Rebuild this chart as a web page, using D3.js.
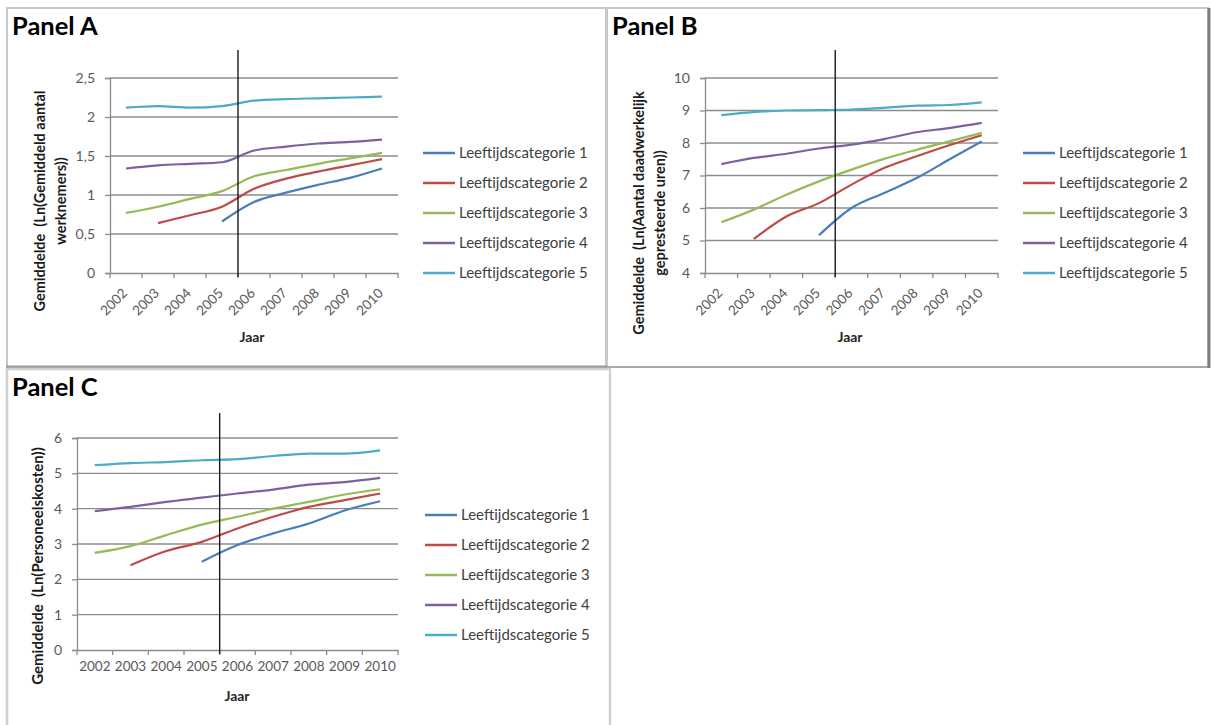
<!DOCTYPE html>
<html>
<head>
<meta charset="utf-8">
<script src="https://cdn.jsdelivr.net/npm/d3@7"></script>
<style>
  body { margin: 0; background: #fff; }
  svg { display: block; font-family: Lato, "Open Sans", sans-serif; }
</style>
</head>
<body>
<svg class="chart"></svg>
<script>
// data
var years = ["2002", "2003", "2004", "2005", "2006", "2007", "2008", "2009", "2010"];
var seriesNames = ["Leeftijdscategorie 1", "Leeftijdscategorie 2", "Leeftijdscategorie 3",
                   "Leeftijdscategorie 4", "Leeftijdscategorie 5"];
var seriesColors = ["#4a7ebb", "#be4b48", "#98b954", "#7d60a0", "#4bacc6"];

var panelAValues = [
    [null, null, null, 0.66, 0.91, 1.03, 1.13, 1.22, 1.34],
    [null, 0.64, 0.74, 0.85, 1.08, 1.21, 1.30, 1.38, 1.46],
    [0.77, 0.85, 0.95, 1.05, 1.24, 1.32, 1.40, 1.47, 1.54],
    [1.34, 1.38, 1.40, 1.42, 1.57, 1.62, 1.66, 1.68, 1.71],
    [2.12, 2.14, 2.12, 2.14, 2.21, 2.23, 2.24, 2.25, 2.26]
];
var panelBValues = [
    [null, null, null, 5.16, 6.00, 6.46, 6.92, 7.49, 8.05],
    [null, 5.05, 5.74, 6.15, 6.72, 7.23, 7.59, 7.93, 8.24],
    [5.56, 5.95, 6.41, 6.82, 7.18, 7.51, 7.79, 8.05, 8.31],
    [7.35, 7.54, 7.67, 7.83, 7.95, 8.12, 8.33, 8.46, 8.62],
    [8.86, 8.95, 9.00, 9.01, 9.03, 9.08, 9.15, 9.17, 9.25]
];
var panelCValues = [
    [null, null, null, 2.50, 2.97, 3.30, 3.58, 3.95, 4.21],
    [null, 2.40, 2.80, 3.06, 3.44, 3.77, 4.05, 4.24, 4.43],
    [2.75, 2.94, 3.25, 3.55, 3.77, 4.00, 4.19, 4.40, 4.55],
    [3.93, 4.05, 4.19, 4.31, 4.43, 4.54, 4.68, 4.75, 4.87],
    [5.23, 5.29, 5.32, 5.37, 5.40, 5.49, 5.56, 5.56, 5.65]
];

var panelATicks = [0, 0.5, 1, 1.5, 2, 2.5];
var panelBTicks = [4, 5, 6, 7, 8, 9, 10];
var panelCTicks = [0, 1, 2, 3, 4, 5, 6];

var panelTitles = ["Panel A", "Panel B", "Panel C"];
var yTitles = [
    ["Gemiddelde  (Ln(Gemiddeld aantal", "werknemers))"],
    ["Gemiddelde  (Ln(Aantal daadwerkelijk", "gepresteerde uren))"],
    ["Gemiddelde  (Ln(Personeelskosten))"]
];
var xTitle = "Jaar";
var breakYear = "2006";   // vertical line sits in front of this year

var width = 1211, height = 725;

var svg = d3.select(".chart").attr("width", width).attr("height", height);
svg.append("rect").attr("width", width).attr("height", height).attr("fill", "#fff");

// panel frames
svg.append("rect").attr("x", 7).attr("y", 8).attr("width", 599).attr("height", 359)
    .attr("fill", "none").attr("stroke", "#c8c8c8").attr("stroke-width", 2);
svg.append("rect").attr("x", 607).attr("y", 8).attr("width", 601).attr("height", 359)
    .attr("fill", "none").attr("stroke", "#c8c8c8").attr("stroke-width", 2);
svg.append("line").attr("x1", 607).attr("x2", 1209).attr("y1", 367).attr("y2", 367)
    .attr("stroke", "#a8a8a8").attr("stroke-width", 2);
svg.append("line").attr("x1", 1209).attr("x2", 1209).attr("y1", 8).attr("y2", 368)
    .attr("stroke", "#7f7f7f").attr("stroke-width", 3);
svg.append("line").attr("x1", 6).attr("x2", 607).attr("y1", 367).attr("y2", 367)
    .attr("stroke", "#9a9a9a").attr("stroke-width", 3);
svg.append("rect").attr("x", 7).attr("y", 369).attr("width", 603).attr("height", 380)
    .attr("fill", "none").attr("stroke", "#d0d0d0").attr("stroke-width", 2.5);

/**
 * Draws one excel-like line chart panel
 */
function drawPanel(p) {
    var g = svg.append("g");

    var x = d3.scaleBand().domain(years).range([p.left, p.right]);
    var y = d3.scaleLinear().domain(d3.extent(p.ticks)).range([p.bottom, p.top]);
    var fmt = function(d) { return String(d).replace(".", ","); };

    g.append("text")
        .attr("x", p.titleX).attr("y", p.titleY)
        .attr("font-size", 25.5).attr("font-weight", "bold").attr("fill", "#000")
        .text(p.title);

    // gridlines
    g.selectAll(".grid")
        .data(p.ticks.slice(1))
        .enter().append("line")
        .attr("x1", p.left).attr("x2", p.right)
        .attr("y1", function(d) { return y(d); })
        .attr("y2", function(d) { return y(d); })
        .attr("stroke", "#8c8c8c").attr("stroke-width", 1.3);

    // y axis
    var yAxis = g.append("g")
        .attr("transform", "translate(" + p.left + ",0)")
        .call(d3.axisLeft(y).tickValues(p.ticks).tickFormat(fmt).tickSize(5).tickPadding(10));
    yAxis.selectAll("line, path").attr("stroke", "#8c8c8c").attr("stroke-width", 1.3);
    yAxis.selectAll("text").attr("font-size", 14).attr("fill", "#595959")
        .attr("font-family", "Lato, sans-serif");

    // x axis: labels at band centres, ticks on band edges
    var xAxis = g.append("g")
        .attr("transform", "translate(0," + p.bottom + ")")
        .call(d3.axisBottom(x).tickSize(0).tickPadding(0));
    xAxis.select("path").attr("stroke", "#8c8c8c").attr("stroke-width", 1.3);
    xAxis.selectAll("text").attr("font-size", 13.5).attr("fill", "#595959")
        .attr("font-family", "Lato, sans-serif");
    if (p.rotate) {
        xAxis.selectAll("text")
            .attr("y", 0).attr("dy", "0.32em")
            .attr("text-anchor", "end")
            .attr("transform", "translate(-1,18) rotate(-45)");
    } else {
        xAxis.selectAll("text").attr("y", 11).attr("dy", "0.71em");
    }
    g.selectAll(".xtick")
        .data(years.concat(["end"]))
        .enter().append("line")
        .attr("x1", function(d) { return d === "end" ? p.right : x(d); })
        .attr("x2", function(d) { return d === "end" ? p.right : x(d); })
        .attr("y1", p.bottom).attr("y2", p.bottom + 5)
        .attr("stroke", "#8c8c8c").attr("stroke-width", 1.3);

    // axis titles
    g.append("text")
        .attr("x", p.jaarX).attr("y", p.jaarY)
        .attr("text-anchor", "middle").attr("font-size", 14).attr("font-weight", "bold")
        .attr("fill", "#262626")
        .text(xTitle);

    p.yTitle.forEach(function(line, i) {
        var tx = p.yTitleX + i * 21;
        g.append("text")
            .attr("transform", "translate(" + tx + "," + p.yTitleY + ") rotate(-90)")
            .attr("text-anchor", "middle").attr("dy", "0.35em")
            .attr("font-size", p.yTitleSize).attr("font-weight", "bold").attr("fill", "#1a1a1a")
            .style("white-space", "pre")
            .text(line);
    });

    // series lines
    var line = d3.line()
        .defined(function(d) { return d != null; })
        .x(function(d, i) { return x(years[i]) + x.bandwidth() / 2; })
        .y(function(d) { return y(d); })
        .curve(d3.curveMonotoneX);

    g.selectAll(".series")
        .data(p.values)
        .enter().append("path")
        .attr("fill", "none")
        .attr("stroke", function(d, i) { return seriesColors[i]; })
        .attr("stroke-width", 2.2)
        .attr("d", line);

    // break line
    g.append("line")
        .attr("x1", x(breakYear)).attr("x2", x(breakYear))
        .attr("y1", p.lineTop).attr("y2", p.bottom + 4)
        .attr("stroke", "#1a1a1a").attr("stroke-width", 1.4);

    // legend
    var legend = g.selectAll(".legend")
        .data(seriesNames)
        .enter().append("g")
        .attr("transform", function(d, i) { return "translate(" + p.legendX + "," + (p.legendY + i * 30) + ")"; });
    legend.append("line")
        .attr("x1", 0).attr("x2", 32)
        .attr("stroke", function(d, i) { return seriesColors[i]; })
        .attr("stroke-width", 2.5);
    legend.append("text")
        .attr("x", 36).attr("dy", "0.35em")
        .attr("font-size", 15).attr("fill", "#404040")
        .text(function(d) { return d; });
}

drawPanel({
    title: panelTitles[0], titleX: 12, titleY: 35,
    values: panelAValues, ticks: panelATicks, yTitle: yTitles[0], yTitleSize: 14.5,
    left: 110, right: 398, top: 78, bottom: 273, lineTop: 50, rotate: true,
    jaarX: 252, jaarY: 342, yTitleX: 40, yTitleY: 201,
    legendX: 423, legendY: 153
});
drawPanel({
    title: panelTitles[1], titleX: 612, titleY: 35,
    values: panelBValues, ticks: panelBTicks, yTitle: yTitles[1], yTitleSize: 14.5,
    left: 705, right: 998, top: 78, bottom: 273, lineTop: 50, rotate: true,
    jaarX: 850, jaarY: 342, yTitleX: 639, yTitleY: 213,
    legendX: 1023, legendY: 153
});
drawPanel({
    title: panelTitles[2], titleX: 12, titleY: 396,
    values: panelCValues, ticks: panelCTicks, yTitle: yTitles[2], yTitleSize: 15,
    left: 77, right: 398, top: 438, bottom: 650, lineTop: 413, rotate: false,
    jaarX: 237, jaarY: 701, yTitleX: 38, yTitleY: 566,
    legendX: 425, legendY: 515
});
</script>
</body>
</html>
